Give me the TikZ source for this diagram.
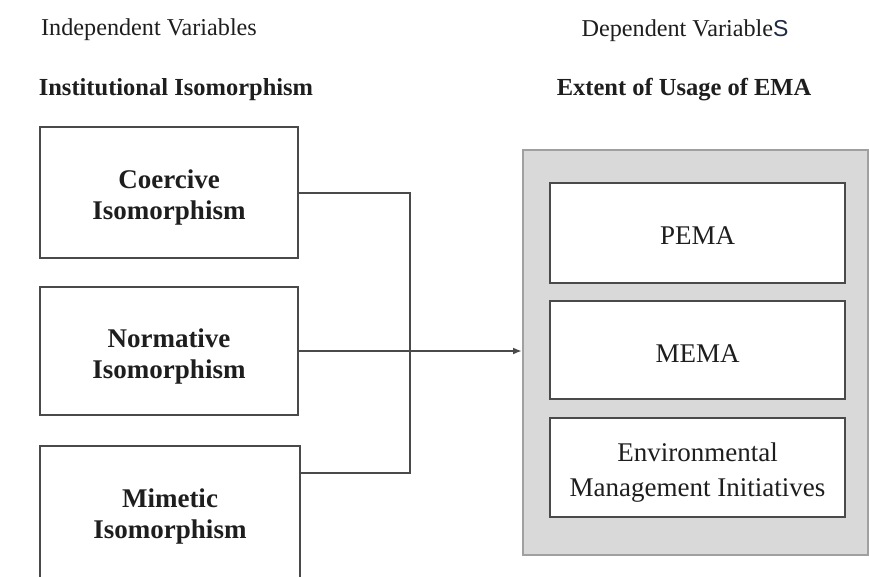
\documentclass[tikz,border=0pt]{standalone}
\usepackage{fontspec}
\setmainfont{Liberation Serif}
\setsansfont{Liberation Sans}
\usetikzlibrary{arrows.meta}
\definecolor{linec}{HTML}{4A4A4A}
\definecolor{grayfill}{HTML}{D9D9D9}
\definecolor{grayedge}{HTML}{A0A0A0}
\definecolor{textc}{HTML}{1E1E1E}
\definecolor{sblue}{HTML}{1F2A44}
\begin{document}
\begin{tikzpicture}[x=1pt,y=-1pt,
  txt/.style={font=\fontsize{24.2}{30}\selectfont, text=textc, inner sep=0pt},
  btxt/.style={font=\fontsize{24.5}{30}\selectfont\bfseries, text=textc, inner sep=0pt, align=center},
  ivbox/.style={draw=linec, line width=2pt, fill=white, minimum width=258pt, inner sep=0pt},
  ivtext/.style={font=\fontsize{27}{31}\selectfont\bfseries, text=textc, inner sep=0pt, align=center},
  dvbox/.style={draw=linec, line width=2pt, fill=white, minimum width=295pt, inner sep=0pt},
  dvtext/.style={font=\fontsize{27}{35}\selectfont, text=textc, inner sep=0pt, align=center},
  conn/.style={draw=linec, line width=2pt}
]
\useasboundingbox (0,0) rectangle (869,576);
\clip (0,0) rectangle (869,576);
\fill[white] (0,0) rectangle (869,576);

% titles
\node[txt] (indep) at (149,30) {Independent Variables};
\node[txt] (dep) at (685,31) {Dependent Variable{\sffamily\fontsize{23}{30}\selectfont\color{sblue}S}};
\node[btxt] (inst) at (176,90) {Institutional Isomorphism};
\node[btxt] (extent) at (684,90) {Extent of Usage of EMA};

% independent variable boxes
\node[ivbox, minimum height=131pt] (coer) at (169,192.5) {};
\node[ivbox, minimum height=128pt] (norm) at (169,351) {};
\node[ivbox, minimum width=260pt, minimum height=136pt] (mim) at (170,514) {};
\node[ivtext] (coert) at ([yshift=-5.5pt]coer.center) {Coercive\\Isomorphism};
\node[ivtext] (normt) at ([yshift=-5.5pt]norm.center) {Normative\\Isomorphism};
\node[ivtext] (mimt) at ([yshift=-2pt]mim.center) {Mimetic\\Isomorphism};

% dependent variable container
\node[draw=grayedge, fill=grayfill, line width=2pt, minimum width=345pt, minimum height=405pt, inner sep=0pt] (gray) at (695.5,352.5) {};
\node[dvbox, minimum height=100pt] (pema) at (697.5,233) {};
\node[dvbox, minimum height=98pt] (mema) at (697.5,350) {};
\node[dvbox, minimum height=99pt] (emi) at (697.5,467.5) {};
\node[dvtext] (pemat) at ([yshift=-3pt]pema.center) {PEMA};
\node[dvtext] (memat) at ([yshift=-3.5pt]mema.center) {MEMA};
\node[dvtext] (emit) at ([yshift=-5pt]emi.center) {Environmental\\Management Initiatives};

% connectors
\coordinate (junc) at (410,351);
\draw[conn] (coer.east) -| (junc) |- ([yshift=41pt]mim.east);
\draw[conn, -{Latex[length=9pt,width=7pt]}] (norm.east) -- (norm.east -| gray.west);
\end{tikzpicture}
\end{document}
